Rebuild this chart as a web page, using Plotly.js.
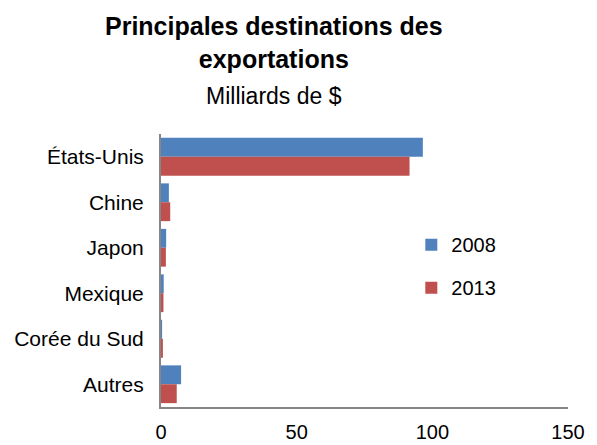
<!DOCTYPE html>
<html>
<head>
<meta charset="utf-8">
<script src="https://cdn.plot.ly/plotly-3.0.1.min.js"></script>
<style>html,body{margin:0;padding:0;background:#fff}#chart{width:597px;height:445px}</style>
</head>
<body>
<div id="chart"></div>
<script>
const categories = ["États-Unis", "Chine", "Japon", "Mexique", "Corée du Sud", "Autres"];
const values2008 = [96.5, 2.9, 1.9, 1.0, 0.4, 7.4];
const values2013 = [91.6, 3.4, 1.8, 0.9, 0.7, 5.8];
const seriesNames = ["2008", "2013"];
const xTicks = [0, 50, 100, 150];

const font = "Liberation Sans, Arial, sans-serif";

const data = [
  {type: "bar", orientation: "h", name: seriesNames[0], y: categories, x: values2008,
   marker: {color: "#4F81BD"}, legendgroup: "a", hoverinfo: "x+name"},
  {type: "bar", orientation: "h", name: seriesNames[1], y: categories, x: values2013,
   marker: {color: "#C0504D"}, legendgroup: "b", hoverinfo: "x+name"}
];

const layout = {
  width: 597, height: 445,
  margin: {l: 161, r: 29, t: 134, b: 38, pad: 0},
  paper_bgcolor: "#fff", plot_bgcolor: "#fff",
  font: {family: font, size: 20, color: "#000"},
  barmode: "group", bargap: 0.17, bargroupgap: 0,
  annotations: [
    {text: "<b>Principales destinations des<br>exportations</b>", xref: "paper", yref: "paper",
     x: 0.2776, y: 1.335, xanchor: "center", yanchor: "middle", showarrow: false,
     font: {family: font, size: 25, color: "#000"}},
    {text: "Milliards de $", xref: "paper", yref: "paper",
     x: 0.2776, y: 1.14, xanchor: "center", yanchor: "middle",
     showarrow: false, font: {family: font, size: 23, color: "#000"}}],
  xaxis: {range: [0, 150], tickvals: xTicks, ticktext: xTicks.map(String),
          showgrid: false, zeroline: false, showline: true, linecolor: "#868686", linewidth: 2,
          ticks: "", ticklabelstandoff: 6, tickfont: {size: 20}, fixedrange: true},
  yaxis: {autorange: "reversed", showgrid: false, zeroline: false, showline: true,
          linecolor: "#868686", linewidth: 2, ticks: "", ticklabelstandoff: 11,
          tickfont: {size: 21}, fixedrange: true},
  legend: {x: 0.615, y: 0.516, xanchor: "left", yanchor: "middle",
           traceorder: "grouped", tracegroupgap: 14,
           font: {family: font, size: 20, color: "#000"}, bgcolor: "rgba(0,0,0,0)"},
  showlegend: true
};

Plotly.newPlot("chart", data, layout, {displayModeBar: false, staticPlot: true});
</script>
</body>
</html>
